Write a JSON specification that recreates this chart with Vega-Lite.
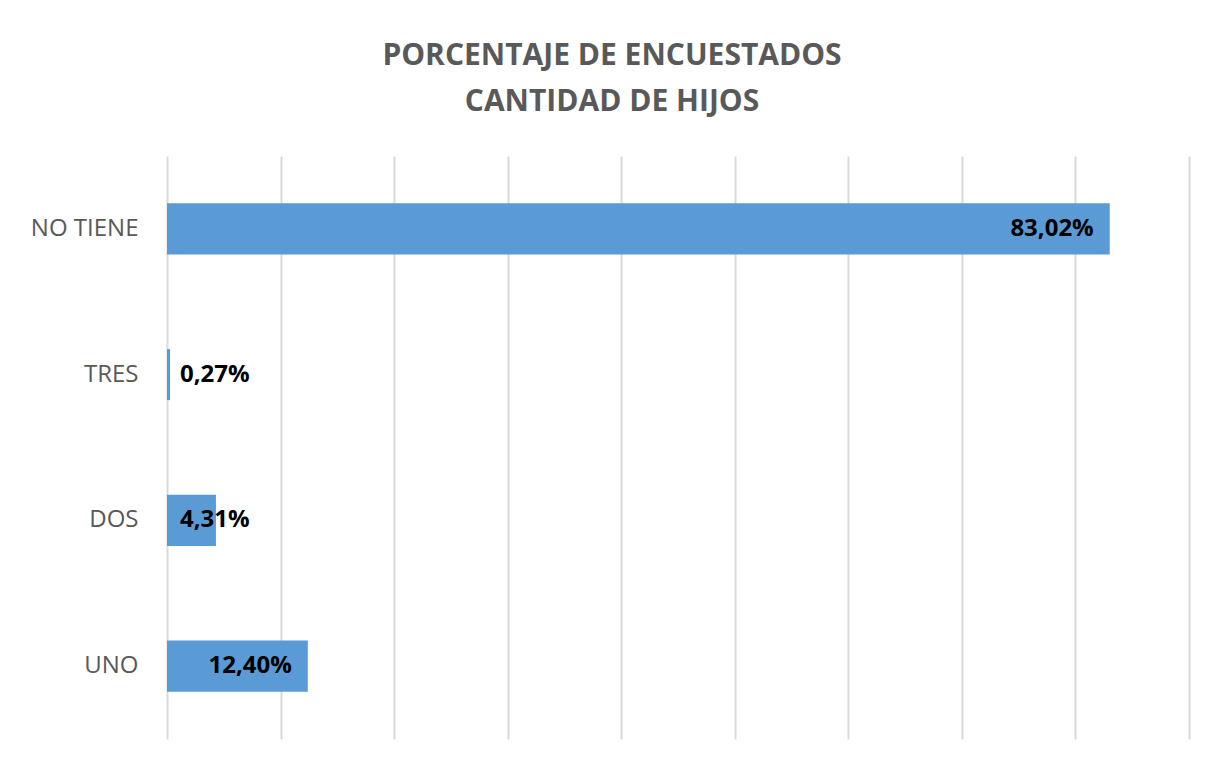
{
  "$schema": "https://vega.github.io/schema/vega-lite/v6.json",
  "width": 1022,
  "height": 583,
  "autosize": {"type": "none"},
  "padding": {"left": 167, "top": 156, "right": 18, "bottom": 21},
  "background": "white",
  "config": {
    "view": {"stroke": null},
    "locale": {"number": {"decimal": ",", "thousands": ".", "grouping": [3], "currency": ["", " €"]}}
  },
  "title": {
    "text": ["PORCENTAJE DE ENCUESTADOS", "CANTIDAD DE HIJOS"],
    "font": "Open Sans",
    "fontSize": 30,
    "fontWeight": "bold",
    "color": "#595959",
    "anchor": "middle",
    "frame": "group",
    "dx": -66,
    "lineHeight": 46,
    "offset": 39
  },
  "data": {
    "values": [
      {"categoria": "NO TIENE", "pct": 0.8302},
      {"categoria": "TRES", "pct": 0.0027},
      {"categoria": "DOS", "pct": 0.0431},
      {"categoria": "UNO", "pct": 0.124}
    ]
  },
  "encoding": {
    "y": {
      "field": "categoria",
      "type": "nominal",
      "sort": ["NO TIENE", "TRES", "DOS", "UNO"],
      "scale": {"paddingInner": 0, "paddingOuter": 0},
      "axis": {
        "title": null,
        "ticks": false,
        "domain": false,
        "grid": false,
        "labelFont": "Open Sans",
        "labelFontSize": 24,
        "labelColor": "#595959",
        "labelPadding": 29
      }
    }
  },
  "layer": [
    {
      "mark": {"type": "bar", "color": "#5B9BD5", "height": {"band": 0.35}},
      "encoding": {
        "x": {
          "field": "pct",
          "type": "quantitative",
          "scale": {"domain": [0, 0.9], "nice": false},
          "axis": {
            "title": null,
            "labels": false,
            "ticks": false,
            "domain": false,
            "grid": true,
            "gridColor": "#d9d9d9",
            "gridWidth": 2,
            "values": [0, 0.1, 0.2, 0.3, 0.4, 0.5, 0.6, 0.7, 0.8, 0.9]
          }
        }
      }
    },
    {
      "transform": [{"filter": "datum.pct >= 0.1"}],
      "mark": {"type": "text", "align": "right", "dx": -16, "font": "Open Sans", "fontSize": 24, "fontWeight": "bold", "color": "black"},
      "encoding": {
        "x": {"field": "pct", "type": "quantitative"},
        "text": {"field": "pct", "type": "quantitative", "format": ".2%"}
      }
    },
    {
      "transform": [{"filter": "datum.pct < 0.1"}],
      "mark": {"type": "text", "align": "left", "dx": 13, "font": "Open Sans", "fontSize": 24, "fontWeight": "bold", "color": "black"},
      "encoding": {
        "x": {"datum": 0, "type": "quantitative"},
        "text": {"field": "pct", "type": "quantitative", "format": ".2%"}
      }
    }
  ]
}
